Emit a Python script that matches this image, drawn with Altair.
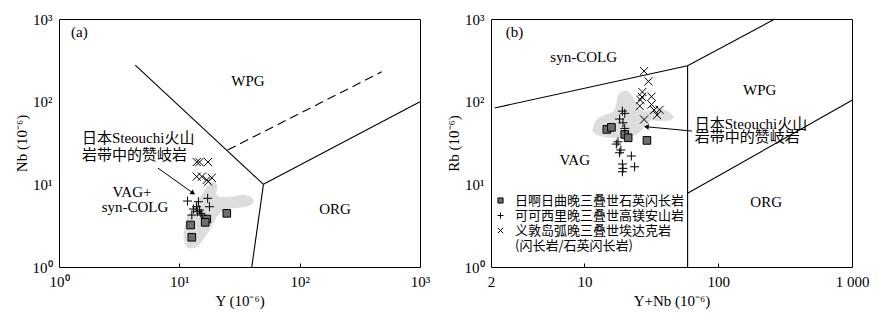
import altair as alt
import pandas as pd

SERIF = "Liberation Serif, Noto Sans CJK SC"
CJK = "Noto Sans CJK SC"

SERIES = ["日啊日曲晚三叠世石英闪长岩", "可可西里晚三叠世高镁安山岩",
          "义敦岛弧晚三叠世埃达克岩", "(闪长岩/石英闪长岩)"]

# ---------------- panel (a): Nb vs Y ----------------
a_sq_Y = [12.4, 12.7, 16.9, 16.4, 24.8]
a_sq_Nb = [3.22, 2.29, 3.80, 3.47, 4.46]
a_pl_Y = [11.7, 14.4, 17.2, 17.8, 13.1, 13.9, 14.7, 15.1, 12.7, 14.1, 15.4]
a_pl_Nb = [6.28, 6.16, 6.77, 5.36, 5.03, 5.36, 4.89, 4.46, 4.25, 4.67, 4.25]
a_x_Y = [13.95, 14.7, 17.3, 13.95, 15.4, 16.9, 18.6, 17.4]
a_x_Nb = [18.6, 18.6, 18.6, 12.4, 12.4, 11.3, 12.0, 10.8]

a_blob_Y = [11.6, 10.9, 11.6, 13.5, 15.7, 18.0, 19.4, 20.6, 20.6, 26.4, 33.8, 40.2,
            40.2, 33.8, 24.9, 20.6, 18.0, 15.7, 13.8, 12.3]
a_blob_Nb = [1.75, 2.37, 3.91, 5.62, 7.85, 10.1, 10.96, 9.54, 7.22, 7.02, 7.42, 6.83,
             5.78, 5.32, 5.02, 4.14, 2.88, 2.12, 1.75, 1.70]

a_seg_id = [0, 0, 1, 1, 2, 2]
a_seg_Y = [4.3, 50, 50, 1000, 50, 40]
a_seg_Nb = [277, 10, 10, 100, 10, 1]
a_dash_Y = [25.2, 481]
a_dash_Nb = [26, 230]

a_xticks = [1, 10, 100, 1000]
a_xlabels = ["10⁰", "10¹", "10²", "10³"]
a_inner_ticks = [10, 100]

a_lbl_c = ["WPG", "ORG", "VAG+", "syn-COLG"]
a_lbl_c_Y = [37.2, 197, 4.04, 4.28]
a_lbl_c_Nb = [177, 5.03, 8.07, 5.32]
a_lbl_l = ["(a)", "日本Steouchi火山", "岩带中的赞岐岩"]
a_lbl_l_Y = [1.26, 1.55, 1.55]
a_lbl_l_Nb = [695, 36.3, 22.6]
a_arrow_Y = [6.65, 13.0]
a_arrow_Nb = [15.7, 7.85]

# ---------------- panel (b): Rb vs Y+Nb ----------------
b_sq_X = [14.7, 15.9, 20.0, 21.2, 29.3]
b_sq_Rb = [46.2, 48.9, 40.2, 36.6, 34.0]
b_pl_X = [19.2, 20.0, 18.3, 19.4, 20.0, 17.3, 17.8, 18.3, 22.4, 19.2, 19.4, 23.7, 19.2, 18.7]
b_pl_Rb = [76.9, 72.2, 61.6, 55.6, 47.5, 30.7, 32.7, 24.1, 22.0, 17.6, 15.6, 16.3, 14.2, 26.0]
b_x_X = [27.9, 30.1, 27.1, 26.9, 31.7, 26.2, 25.9, 31.7, 33.1, 36.4, 34.9, 27.9]
b_x_Rb = [234, 176, 131, 114, 115, 105, 88.5, 92.2, 79.1, 79.8, 68.9, 60.8]

b_blob_X = [11.6, 12.3, 14.2, 16.4, 17.4, 17.9, 19.5, 21.3, 23.2, 25.3, 29.2, 35.6,
            42.3, 46.1, 43.6, 36.7, 31.8, 29.2, 26.8, 23.9, 19.0, 15.1, 12.7, 11.6]
b_blob_Rb = [47.5, 59.9, 68.9, 75.5, 95.3, 120, 134, 132, 110, 83, 75.5, 83,
             75.5, 65.7, 59.9, 58.8, 59.9, 54.7, 45.4, 39.5, 37.0, 37.0, 39.5, 43.3]

b_seg_id = [0, 0, 0, 1, 1, 2, 2]
b_seg_X = [2.13, 59, 265, 59, 59, 59, 1000]
b_seg_Rb = [84, 272, 1000, 272, 1, 7.8, 104]

b_xticks = [2, 10, 100, 1000]
b_xlabels = ["2", "10", "100", "1 000"]
b_inner_ticks = [10, 100]

b_lbl_c = ["syn-COLG", "WPG", "VAG", "ORG"]
b_lbl_c_X = [9.86, 204, 8.45, 228]
b_lbl_c_Rb = [346, 138, 19.7, 6.16]
b_lbl_l = ["(b)", "日本Steouchi火山", "岩带中的赞岐岩"]
b_lbl_l_X = [2.58, 66.7, 66.7]
b_lbl_l_Rb = [695, 53.6, 37.3]
b_arrow_X = [63.7, 29.0]
b_arrow_Rb = [44.1, 49.7]

y_ticks = [1, 10, 100, 1000]
y_labels = ["10⁰", "10¹", "10²", "10³"]

# ---------------- styles ----------------
SQ = "M-0.85,-0.85H0.85V0.85H-0.85Z"
PLUS = "M-1,0H1M0,-1V1"
XMK = "M-0.9,-0.9L0.9,0.9M-0.9,0.9L0.9,-0.9"
shape_range = [SQ, PLUS, XMK, PLUS]
fill_range = ["#6e6e6e", "transparent", "transparent", "transparent"]
stroke_range = ["black", "black", "black", "transparent"]
W, H = 361, 248


def label_expr(vals, labels):
    expr = "''"
    for v, l in reversed(list(zip(vals, labels))):
        expr = f"datum.value == {v} ? '{l}' : ({expr})"
    return expr


def pts_df(groups):
    frames = []
    for xs, ys, s in groups:
        frames.append(pd.DataFrame({"x": xs, "y": ys, "series": s}))
    return pd.concat(frames, ignore_index=True)


def panel(xdom, xticks, xlabels, inner_ticks, xtitle, ytitle,
          blob, segs, dash, pts, lbl_c, lbl_l, arrow, arrow_angle, show_legend):
    xs = alt.Scale(type="log", domain=xdom, nice=False)
    ys = alt.Scale(type="log", domain=[1, 1000], nice=False)
    xaxis = alt.Axis(values=xticks, labelExpr=label_expr(xticks, xlabels), title=xtitle,
                     ticks=False, domain=False, grid=False, labelFlush=False,
                     labelPadding=7, titlePadding=4, labelFontSize=15, titleFontSize=15,
                     labelFont=SERIF, titleFont=SERIF, titleFontWeight="normal",
                     labelColor="black", titleColor="black", labelOverlap=False)
    yaxis = alt.Axis(values=y_ticks, labelExpr=label_expr(y_ticks, y_labels), title=ytitle,
                     ticks=False, domain=False, grid=False, labelFlush=False,
                     labelPadding=7, titlePadding=3, labelFontSize=15, titleFontSize=15,
                     labelFont=SERIF, titleFont=SERIF, titleFontWeight="normal",
                     labelColor="black", titleColor="black", labelOverlap=False)
    X = lambda f="x": alt.X(f, type="quantitative", scale=xs, axis=xaxis)
    Y = lambda f="y": alt.Y(f, type="quantitative", scale=ys, axis=yaxis)

    blob_l = alt.Chart(blob).mark_line(interpolate="cardinal-closed", fill="#dddddd",
                                       stroke="#dddddd", strokeWidth=0.5).encode(
        x=X(), y=Y(), order="i:Q")
    seg_l = alt.Chart(segs).mark_line(color="black", strokeWidth=1.1).encode(
        x=X(), y=Y(), detail="seg:N", order="i:Q")
    layers = [blob_l, seg_l]
    if dash is not None:
        layers.append(alt.Chart(dash).mark_line(color="black", strokeWidth=1.1,
                                                strokeDash=[9, 5]).encode(
            x=X(), y=Y(), order="i:Q"))
    legend = None
    if show_legend:
        legend = alt.Legend(title=None, orient="none", legendX=3, legendY=175, padding=0,
                            symbolSize=36, symbolStrokeWidth=1, labelFont=CJK,
                            labelFontSize=13, labelOffset=8, labelLimit=400,
                            rowPadding=1, labelColor="black")
    pts_l = alt.Chart(pts).mark_point(size=81, strokeWidth=1, opacity=1).encode(
        x=X(), y=Y(),
        shape=alt.Shape("series:N", scale=alt.Scale(domain=SERIES, range=shape_range), legend=legend),
        fill=alt.Fill("series:N", scale=alt.Scale(domain=SERIES, range=fill_range), legend=legend),
        stroke=alt.Stroke("series:N", scale=alt.Scale(domain=SERIES, range=stroke_range), legend=legend),
    )
    layers.append(pts_l)
    layers.append(alt.Chart(lbl_c).mark_text(font=SERIF, fontSize=15, align="center",
                                             baseline="middle", color="black").encode(
        x=X(), y=Y(), text="t:N"))
    layers.append(alt.Chart(lbl_l).mark_text(font=SERIF, fontSize=15, align="left",
                                             baseline="middle", color="black").encode(
        x=X(), y=Y(), text="t:N"))
    layers.append(alt.Chart(arrow).mark_line(color="black", strokeWidth=1).encode(
        x=X(), y=Y(), order="i:Q"))
    layers.append(alt.Chart(arrow).transform_filter("datum.i == 1").mark_point(
        shape="triangle-up", size=30, filled=True, color="black", opacity=1,
        angle=arrow_angle).encode(x=X(), y=Y()))
    main = alt.layer(*layers)

    tick_df = pd.DataFrame({"x": inner_ticks, "y": [1] * len(inner_ticks)})
    tick_axis = alt.Axis(values=inner_ticks, orient="bottom", offset=-4, ticks=True, tickSize=4,
                         tickColor="black", labels=False, domain=False, grid=False, title=None)
    tick_l = alt.Chart(tick_df).mark_point(opacity=0).encode(
        x=alt.X("x:Q", scale=xs, axis=tick_axis),
        y=alt.Y("y:Q", scale=ys, axis=yaxis))
    return alt.layer(main, tick_l).resolve_axis(x="independent").properties(width=W, height=H)


def seq_df(xs, ys, extra=None):
    d = pd.DataFrame({"x": xs, "y": ys, "i": list(range(len(xs)))})
    if extra is not None:
        d["seg"] = extra
    return d


def lbl_df(t, xs, ys):
    return pd.DataFrame({"t": t, "x": xs, "y": ys})


pa = panel([1, 1000], a_xticks, a_xlabels, a_inner_ticks, "Y (10⁻⁶)", "Nb (10⁻⁶)",
           seq_df(a_blob_Y, a_blob_Nb), seq_df(a_seg_Y, a_seg_Nb, a_seg_id),
           seq_df(a_dash_Y, a_dash_Nb),
           pts_df([(a_sq_Y, a_sq_Nb, SERIES[0]), (a_pl_Y, a_pl_Nb, SERIES[1]), (a_x_Y, a_x_Nb, SERIES[2])]),
           lbl_df(a_lbl_c, a_lbl_c_Y, a_lbl_c_Nb), lbl_df(a_lbl_l, a_lbl_l_Y, a_lbl_l_Nb),
           seq_df(a_arrow_Y, a_arrow_Nb), 125, False)

pb = panel([2, 1000], b_xticks, b_xlabels, b_inner_ticks, "Y+Nb (10⁻⁶)", "Rb (10⁻⁶)",
           seq_df(b_blob_X, b_blob_Rb), seq_df(b_seg_X, b_seg_Rb, b_seg_id), None,
           pts_df([(b_sq_X, b_sq_Rb, SERIES[0]), (b_pl_X, b_pl_Rb, SERIES[1]), (b_x_X, b_x_Rb, SERIES[2])]),
           lbl_df(b_lbl_c, b_lbl_c_X, b_lbl_c_Rb), lbl_df(b_lbl_l, b_lbl_l_X, b_lbl_l_Rb),
           seq_df(b_arrow_X, b_arrow_Rb), 275, True)

chart = alt.hconcat(pa, pb, spacing=71, bounds="flush").resolve_scale(
    shape="independent", fill="independent", stroke="independent"
).properties(
    autosize=alt.AutoSizeParams(type="none"),
    padding={"left": 51, "top": 11, "right": 811, "bottom": 291},
    background="white",
).configure_view(stroke="black", strokeWidth=1)

chart.save("out.html", embed_options={"renderer": "svg", "actions": False})
